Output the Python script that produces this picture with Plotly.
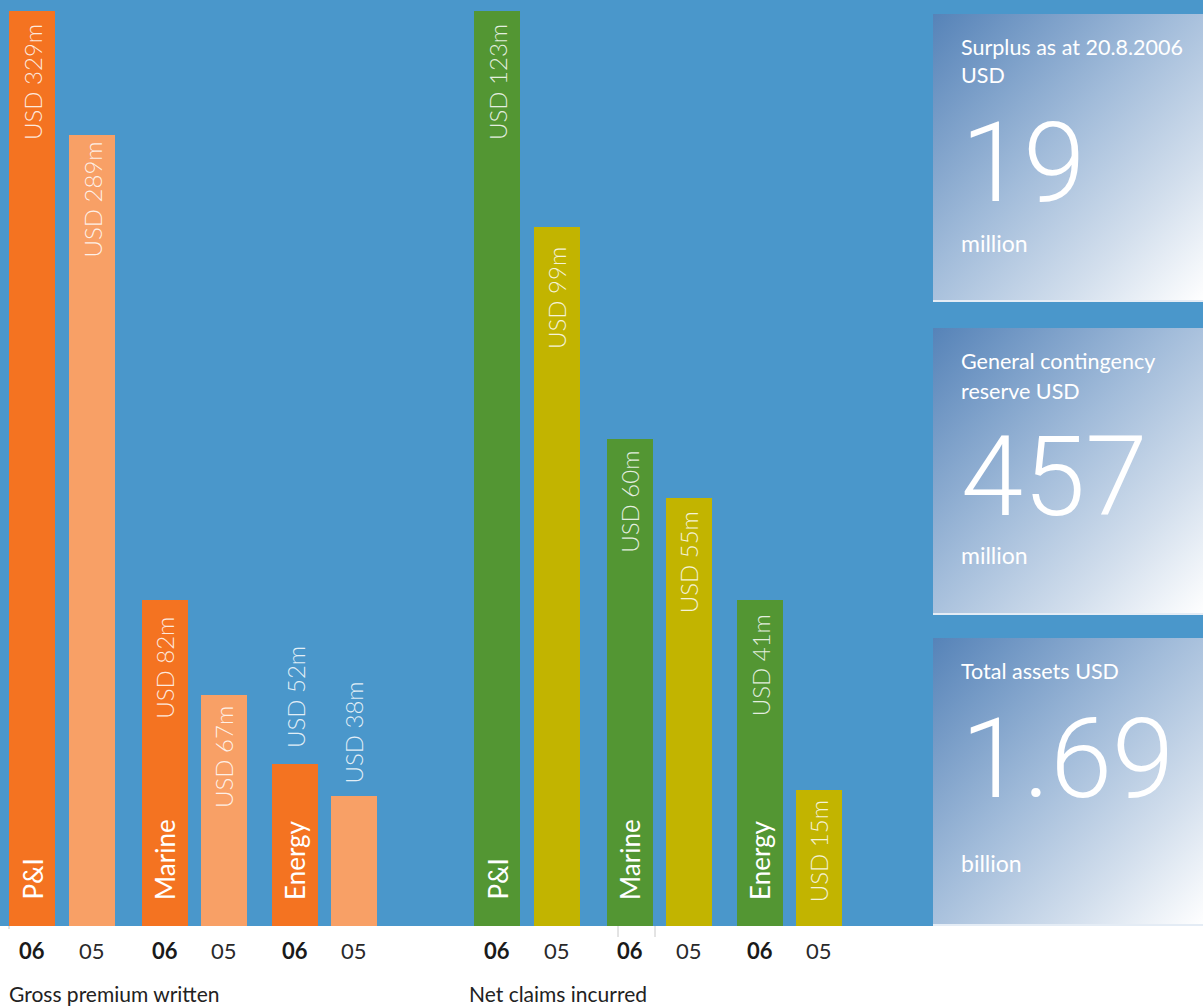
import base64
import plotly.graph_objects as go

# ---------------- data ----------------
categories = ["P&I", "Marine", "Energy"]
years = ["06", "05"]
gross_values = [329, 289, 82, 67, 52, 38]          # USD m, labels
net_values = [123, 99, 60, 55, 41, 15]             # USD m, labels
gross_bar_height = [100, 86.4, 35.6, 25.2, 17.7, 14.2]   # drawn height, % of tallest
net_bar_height = [100, 76.4, 53.2, 46.8, 35.6, 14.9]
group_titles = ["Gross premium written", "Net claims incurred"]
panel_captions = [["Surplus as at 20.8.2006", "USD"],
                  ["General contingency", "reserve USD"],
                  ["Total assets USD"]]
panel_numbers = ["19", "457", "1.69"]
panel_units = ["million", "million", "billion"]

# ---------------- layout constants ----------------
W, H = 1203, 1007
BASE = 926
BLUE = "#4a97cb"
FONT = "Lato"
group_start = [32, 497]
title_x = [8, 468]
pair_offsets = [0, 60, 132.5, 191.5, 263, 321.5]
bar_width = 46
colors = [["#f47321", "#f8a066"], ["#539633", "#c2b400"]]
label_mode = [["in", "in", "in", "in", "out", "out"], ["in"] * 6]
label_gap = [[14, 7, 18, 12, 17, 13], [14, 21, 13, 15, 15, 12]]
y_top = 100 * BASE / 915.0


def yp(px):
    return 1 - px / H


fig = go.Figure()
annotations = []
groups = [(gross_values, gross_bar_height), (net_values, net_bar_height)]
for g, (vals, heights) in enumerate(groups):
    xs = [group_start[g] + o for o in pair_offsets]
    cols = [colors[g][i % 2] for i in range(6)]
    fig.add_trace(go.Bar(x=xs, y=heights, width=bar_width, marker=dict(color=cols, line=dict(width=0)),
                         hoverinfo="skip", showlegend=False))
    for i in range(6):
        txt = f"USD {vals[i]}m"
        inside = label_mode[g][i] == "in"
        annotations.append(dict(x=xs[i], y=heights[i], xref="x", yref="y", text=txt, textangle=-90,
                                showarrow=False, xanchor="center",
                                yanchor="top" if inside else "bottom",
                                yshift=-(label_gap[g][i] - 3) if inside else label_gap[g][i] - 3,
                                font=dict(family=FONT, size=24, weight=300, color="rgba(255,255,255,0.85)")))
        yr = years[i % 2]
        annotations.append(dict(x=xs[i], y=yp(950), xref="x", yref="paper", text=yr, showarrow=False,
                                xanchor="center", yanchor="middle",
                                font=dict(family=FONT, size=22, weight=700 if yr == "06" else 400,
                                          color="#1a1a1a" if yr == "06" else "#2a2a2a")))
    for c, cat in enumerate(categories):
        annotations.append(dict(x=xs[2 * c], y=0, xref="x", yref="y", text=cat, textangle=-90,
                                showarrow=False, xanchor="center", yanchor="bottom", yshift=24,
                                font=dict(family=FONT, size=26, color="white")))
    annotations.append(dict(x=title_x[g], y=yp(993.5), xref="x", yref="paper", text=group_titles[g],
                            showarrow=False, xanchor="left", yanchor="middle", borderpad=0,
                            font=dict(family=FONT, size=21, color="#222222")))

# ---------------- right panels ----------------
panel_top = [14, 328, 638]
panel_bottom = [302, 615, 926]
panel_left = 933
caption_y = [[47.5, 75.5], [361, 391], [670.5]]
number_y = [163, 476, 758]
unit_y = [243, 555, 863]

svg = ('<svg xmlns="http://www.w3.org/2000/svg" width="270" height="288" viewBox="0 0 270 288" '
       'preserveAspectRatio="none"><defs><linearGradient id="g" x1="0" y1="0" x2="1" y2="1">'
       '<stop offset="0" stop-color="#5683b8"/><stop offset="0.45" stop-color="#a2bcda"/>'
       '<stop offset="0.75" stop-color="#d3dfed"/><stop offset="1" stop-color="#ffffff"/>'
       '</linearGradient></defs><rect width="270" height="288" fill="url(#g)"/></svg>')
src = "data:image/svg+xml;base64," + base64.b64encode(svg.encode()).decode()

images = []
shapes = []
for p in range(3):
    images.append(dict(source=src, xref="paper", yref="paper", x=panel_left / W, y=yp(panel_top[p]),
                       sizex=(W - panel_left) / W, sizey=(panel_bottom[p] - panel_top[p]) / H,
                       sizing="stretch", xanchor="left", yanchor="top", layer="below"))
    shapes.append(dict(type="line", xref="paper", yref="paper", x0=panel_left / W, x1=1,
                       y0=yp(panel_bottom[p] - 1), y1=yp(panel_bottom[p] - 1),
                       line=dict(color="#e4ecf5", width=2)))
    for k, line in enumerate(panel_captions[p]):
        annotations.append(dict(x=panel_left + 27, y=yp(caption_y[p][k]), xref="x", yref="paper", text=line,
                                showarrow=False, xanchor="left", yanchor="middle", borderpad=0,
                                font=dict(family=FONT, size=21.5, color="white")))
    annotations.append(dict(x=panel_left + 27, y=yp(number_y[p]), xref="x", yref="paper", text=panel_numbers[p],
                            showarrow=False, xanchor="left", yanchor="middle", borderpad=0,
                            font=dict(family="Roboto", size=112, weight=300, color="white")))
    annotations.append(dict(x=panel_left + 27, y=yp(unit_y[p]), xref="x", yref="paper", text=panel_units[p],
                            showarrow=False, xanchor="left", yanchor="middle", borderpad=0,
                            font=dict(family=FONT, size=23, color="white")))

# small tick marks below the baseline
for tx, tlen in [(9, 3), (618, 11), (655, 11)]:
    shapes.append(dict(type="line", xref="x", yref="paper", x0=tx, x1=tx, y0=yp(BASE), y1=yp(BASE + tlen),
                       line=dict(color="#c8c8c8", width=1)))

fig.update_layout(
    width=W, height=H,
    margin=dict(l=0, r=0, t=0, b=0),
    paper_bgcolor="white",
    plot_bgcolor=BLUE,
    xaxis=dict(domain=[0, 1], range=[0, W], visible=False, fixedrange=True),
    yaxis=dict(domain=[yp(BASE), 1], range=[0, y_top], visible=False, fixedrange=True),
    bargap=0,
    annotations=annotations,
    shapes=shapes,
    images=images,
    showlegend=False,
)

fig.write_html("out.html")
